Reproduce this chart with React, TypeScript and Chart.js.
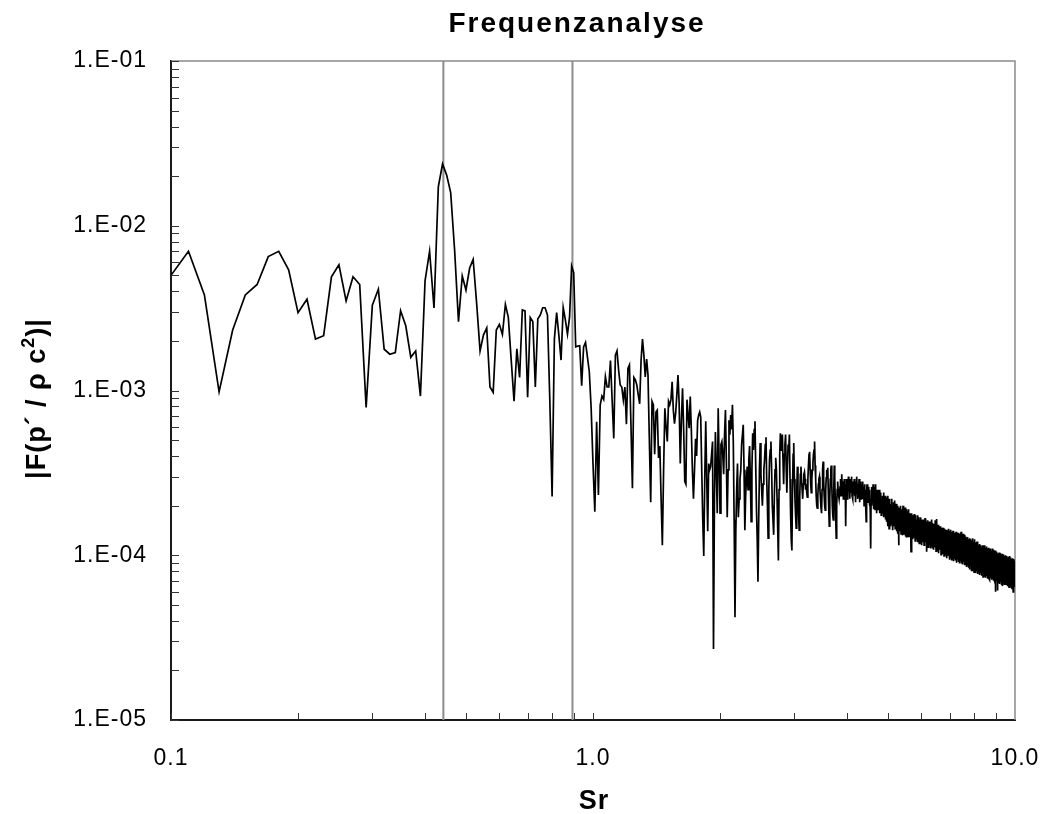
import React, { useEffect, useRef } from 'react';
import { Chart, registerables } from 'chart.js';

Chart.register(...registerables);

const FONT = '"Liberation Sans", Arial, Helvetica, sans-serif';

// Frequency bins: Sr = (SR_FIRST_BIN + i) * SR_STEP
const SR_FIRST_BIN = 10;
const SR_STEP = 0.01;

// |F(p'/rho c^2)| for Sr 0.10 .. 1.01
const ampLow = [
  5.0e-3, 7.0e-3, 3.8e-3, 9.8e-4, 2.33e-3, 3.8e-3, 4.4e-3, 6.5e-3, 7.0e-3, 5.4e-3,
  2.97e-3, 3.58e-3, 2.05e-3, 2.15e-3, 4.9e-3, 5.8e-3, 3.5e-3, 4.9e-3, 4.4e-3, 7.9e-4,
  3.29e-3, 4.12e-3, 1.78e-3, 1.66e-3, 1.7e-3, 3.05e-3, 2.47e-3, 1.59e-3, 1.74e-3, 9.25e-4,
  4.64e-3, 7.0e-3, 3.17e-3, 1.72e-2, 2.37e-2, 2.03e-2, 1.59e-2, 7.1e-3, 2.62e-3, 4.96e-3,
  4.07e-3, 5.52e-3, 6.25e-3, 3.38e-3, 1.74e-3, 2.17e-3, 2.4e-3, 1.05e-3, 9.75e-4, 2.33e-3,
  2.52e-3, 2.19e-3, 3.33e-3, 2.78e-3, 1.53e-3, 8.6e-4, 1.79e-3, 1.2e-3, 3.08e-3, 3.04e-3,
  9.1e-4, 2.77e-3, 2.62e-3, 1.05e-3, 2.72e-3, 2.87e-3, 3.18e-3, 3.18e-3, 2.87e-3, 8.8e-4,
  2.27e-4, 2.05e-3, 2.97e-3, 2.17e-3, 1.53e-3, 3.18e-3, 2.68e-3, 2.2e-3, 2.8e-3, 5.7e-3,
  5.2e-3, 1.84e-3, 1.86e-3, 1.87e-3, 1.07e-3, 1.84e-3, 1.96e-3, 1.6e-3, 1.3e-3, 7.8e-4,
  3.6e-4, 1.84e-4,
];

// Sr 1.02 .. 3.84
const ampMid = [
  6.47e-4, 2.32e-4, 8.16e-4, 9.25e-4, 8.83e-4, 1.21e-3, 1.05e-3, 1.05e-3,
  1.52e-3, 8.75e-4, 5.12e-4, 1.64e-3, 1.74e-3, 1.33e-3, 1.08e-3, 1.05e-3, 8.75e-4, 1.05e-3,
  6.25e-4, 1.36e-3, 1.43e-3, 6.25e-4, 2.55e-4, 1.2e-3, 1.16e-3, 1.08e-3, 9.4e-4, 8.3e-4,
  1.53e-3, 2.05e-3, 1.64e-3, 1.21e-3, 1.55e-3, 1.24e-3, 5.0e-4, 2.1e-4, 8.6e-4, 8.2e-4,
  4.1e-4, 7.4e-4, 7.6e-4, 3.9e-4, 4.6e-4, 2.2e-4, 1.15e-4, 3.3e-4, 7.8e-4, 6.0e-4,
  4.9e-4, 8.6e-4, 8.2e-4, 8.8e-4, 1.13e-3, 7.6e-4, 6.3e-4, 7.3e-4, 9.4e-4, 1.24e-3,
  8.4e-4, 3.6e-4, 6.6e-4, 1.03e-3, 5.8e-4, 2.8e-4, 2.7e-4, 8.8e-4, 7.1e-4, 5.9e-4,
  9.2e-4, 5.8e-4, 3.3e-4, 2.2e-4, 3.3e-4, 5.1e-4, 4.0e-4, 6.6e-4, 7.1e-4, 7.4e-4,
  6.9e-4, 3.3e-4, 1.64e-4, 9.9e-5, 2.9e-4, 6.5e-4, 2.9e-4, 1.4e-4, 3.6e-4, 3.3e-4,
  3.45e-4, 4.1e-4, 4.9e-4, 2.7e-5, 2.2e-4, 5.6e-4, 3.3e-4, 1.8e-4, 7.8e-4, 3.8e-4,
  1.8e-4, 4.7e-4, 4.9e-4, 4.1e-4, 3.1e-4, 5.4e-4, 7.6e-4, 3.8e-4, 1.7e-4, 3.3e-4,
  6.6e-4, 5.4e-4, 7.1e-4, 5.8e-4, 8.2e-4, 4.9e-4, 1.64e-4, 4.2e-5, 1.42e-4, 2.5e-4,
  3.6e-4, 1.7e-4, 2.2e-4, 2.9e-4, 3.3e-4, 4.7e-4, 5.4e-4, 6.2e-4, 3.3e-4, 1.42e-4,
  2.3e-4, 2.9e-4, 3.45e-4, 2.5e-4, 3.8e-4, 4.6e-4, 2.9e-4, 1.6e-4, 3.3e-4, 5.5e-4,
  4.35e-4, 5.8e-4, 6.5e-4, 3.5e-4, 1.9e-4, 1.24e-4, 6.9e-5, 1.64e-4, 3.3e-4, 4.8e-4,
  3.1e-4, 2.5e-4, 2.0e-4, 2.7e-4, 3.3e-4, 3.8e-4, 4.7e-4, 5.2e-4, 2.9e-4, 2.0e-4,
  1.27e-4, 2.5e-4, 3.8e-4, 4.35e-4, 4.9e-4, 3.3e-4, 2.0e-4, 1.64e-4, 1.33e-4, 2.3e-4,
  3.3e-4, 3.9e-4, 3.3e-4, 2.2e-4, 1.42e-4, 9.3e-5, 2.5e-4, 4.1e-4, 5.5e-4, 4.35e-4,
  5.0e-4, 5.4e-4, 3.8e-4, 2.7e-4, 4.1e-4, 4.7e-4, 5.4e-4, 3.3e-4, 2.4e-4, 3.5e-4,
  4.7e-4, 4.35e-4, 5.4e-4, 2.9e-4, 1.75e-4, 1.24e-4, 1.07e-4, 2.5e-4, 4.1e-4, 4.8e-4,
  2.9e-4, 2.2e-4, 1.75e-4, 1.46e-4, 2.5e-4, 3.45e-4, 2.3e-4, 1.75e-4, 1.42e-4, 2.3e-4,
  3.1e-4, 3.45e-4, 2.9e-4, 2.5e-4, 2.2e-4, 2.7e-4, 3.1e-4, 3.2e-4, 2.9e-4, 2.5e-4,
  2.7e-4, 2.4e-4, 2.25e-4, 2.9e-4, 3.5e-4, 4.1e-4, 4.25e-4, 3.3e-4, 2.7e-4, 2.4e-4,
  2.9e-4, 3.3e-4, 3.6e-4, 4.1e-4, 4.35e-4, 4.9e-4, 3.5e-4, 2.9e-4, 2.3e-4, 2.0e-4,
  1.93e-4, 2.3e-4, 2.7e-4, 2.9e-4, 3.0e-4, 2.5e-4, 2.2e-4, 1.93e-4, 1.8e-4, 2.5e-4,
  3.3e-4, 3.7e-4, 2.9e-4, 2.3e-4, 2.0e-4, 1.88e-4, 2.5e-4, 2.95e-4, 3.3e-4, 3.1e-4,
  3.4e-4, 2.5e-4, 1.88e-4, 1.5e-4, 2.2e-4, 2.9e-4, 3.3e-4, 3.5e-4, 2.7e-4, 2.0e-4,
  1.75e-4, 1.64e-4, 2.5e-4, 3.5e-4, 2.9e-4, 2.2e-4, 1.64e-4, 1.27e-4, 2.0e-4, 2.5e-4,
  2.8e-4, 2.5e-4, 2.3e-4, 2.2e-4, 2.2e-4,
];

// Sr 3.85 .. 10.00
const ampHigh = [
  2.6e-4, 2.9e-4, 2.3e-4, 2.7e-4, 3.1e-4, 2.4e-4, 2.8e-4, 2.2e-4, 2.6e-4, 2.9e-4,
  2.3e-4, 2.7e-4, 1.5e-4, 2.5e-4, 2.9e-4, 2.2e-4, 2.8e-4, 2.4e-4, 3.0e-4, 2.5e-4,
  2.7e-4, 2.2e-4, 2.9e-4, 2.4e-4, 2.6e-4, 3.0e-4, 2.3e-4, 2.7e-4, 2.2e-4, 2.8e-4,
  2.5e-4, 2.9e-4, 2.3e-4, 2.6e-4, 2.1e-4, 2.8e-4, 2.4e-4, 3.0e-4, 2.5e-4, 2.2e-4,
  2.7e-4, 2.3e-4, 2.9e-4, 2.1e-4, 2.6e-4, 2.4e-4, 2.8e-4, 2.2e-4, 2.7e-4, 2.5e-4,
  2.2e-4, 2.8e-4, 2.4e-4, 2.6e-4, 2.0e-4, 2.7e-4, 2.3e-4, 2.5e-4, 1.9e-4, 1.6e-4,
  2.4e-4, 2.7e-4, 2.2e-4, 2.5e-4, 2.1e-4, 2.6e-4, 2.3e-4, 2.0e-4, 2.5e-4, 1.8e-4,
  1.1e-4, 2.2e-4, 2.6e-4, 2.0e-4, 2.4e-4, 2.1e-4, 2.7e-4, 1.9e-4, 2.5e-4, 2.2e-4,
  2.6e-4, 1.9e-4, 2.7e-4, 2.2e-4, 2.4e-4, 1.8e-4, 2.5e-4, 2.1e-4, 2.3e-4, 1.9e-4,
  2.4e-4, 2.0e-4, 2.5e-4, 1.8e-4, 2.3e-4, 2.1e-4, 2.4e-4, 1.75e-4, 2.2e-4, 1.9e-4,
  2.3e-4, 1.8e-4, 2.1e-4, 2.4e-4, 1.7e-4, 2.2e-4, 1.9e-4, 2.3e-4, 1.65e-4, 2.1e-4,
  1.75e-4, 2.25e-4, 1.6e-4, 2.05e-4, 1.5e-4, 2.3e-4, 1.75e-4, 2.1e-4, 1.45e-4, 1.95e-4,
  2.2e-4, 1.6e-4, 2.05e-4, 1.5e-4, 1.9e-4, 2.2e-4, 1.55e-4, 2.0e-4, 1.42e-4, 1.85e-4,
  2.1e-4, 1.5e-4, 1.95e-4, 1.6e-4, 2.15e-4, 1.45e-4, 1.9e-4, 1.55e-4, 2.05e-4, 1.4e-4,
  1.85e-4, 1.5e-4, 2.0e-4, 1.35e-4, 1.8e-4, 1.15e-4, 1.7e-4, 1.95e-4, 1.4e-4, 1.85e-4,
  1.5e-4, 2.0e-4, 1.35e-4, 1.8e-4, 1.45e-4, 1.9e-4, 1.32e-4, 1.75e-4, 2.0e-4, 1.4e-4,
  1.85e-4, 1.35e-4, 1.75e-4, 1.45e-4, 1.95e-4, 1.3e-4, 1.8e-4, 1.4e-4, 1.9e-4, 1.28e-4,
  1.75e-4, 1.4e-4, 1.85e-4, 1.3e-4, 1.7e-4, 1.9e-4, 1.3e-4, 1.75e-4, 1.4e-4, 1.8e-4,
  1.35e-4, 1.7e-4, 1.05e-4, 1.6e-4, 1.8e-4, 1.3e-4, 1.65e-4, 1.25e-4, 1.75e-4, 1.35e-4,
  1.65e-4, 1.28e-4, 1.78e-4, 1.35e-4, 1.65e-4, 1.22e-4, 1.6e-4, 1.75e-4, 1.3e-4, 1.65e-4,
  1.25e-4, 1.6e-4, 1.75e-4, 1.2e-4, 1.55e-4, 1.7e-4, 1.25e-4, 1.6e-4, 1.18e-4, 1.65e-4,
  1.3e-4, 1.6e-4, 1.2e-4, 1.7e-4, 1.25e-4, 1.55e-4, 1.15e-4, 1.65e-4, 1.3e-4, 1.58e-4,
  1.2e-4, 1.65e-4, 1.28e-4, 1.55e-4, 1.15e-4, 1.6e-4, 1.3e-4, 1.68e-4, 1.2e-4, 1.52e-4,
  1.25e-4, 1.6e-4, 1.18e-4, 1.05e-4, 1.5e-4, 1.63e-4, 1.2e-4, 1.55e-4, 1.12e-4, 1.5e-4,
  1.6e-4, 1.2e-4, 1.52e-4, 1.15e-4, 1.6e-4, 1.25e-4, 1.5e-4, 1.1e-4, 1.55e-4, 1.22e-4,
  1.65e-4, 1.18e-4, 1.5e-4, 1.1e-4, 1.57e-4, 1.24e-4, 1.47e-4, 1.08e-4, 1.55e-4, 1.2e-4,
  1.5e-4, 1.12e-4, 1.63e-4, 1.2e-4, 1.47e-4, 1.06e-4, 1.55e-4, 1.15e-4, 1.66e-4, 1.22e-4,
  1.45e-4, 1.06e-4, 1.53e-4, 1.18e-4, 1.43e-4, 1.03e-4, 1.5e-4, 1.15e-4, 1.45e-4, 1.08e-4,
  1.5e-4, 1.12e-4, 1.4e-4, 1.01e-4, 1.47e-4, 1.15e-4, 1.43e-4, 1.03e-4, 1.45e-4, 1.1e-4,
  1.37e-4, 1.47e-4, 1.05e-4, 1.4e-4, 9.9e-5, 1.45e-4, 1.1e-4, 1.37e-4, 1.01e-4, 1.43e-4,
  1.08e-4, 1.4e-4, 1.15e-4, 9.6e-5, 1.43e-4, 1.05e-4, 1.35e-4, 1.0e-4, 1.41e-4, 1.1e-4,
  1.37e-4, 9.9e-5, 1.45e-4, 1.05e-4, 1.33e-4, 9.4e-5, 1.4e-4, 1.02e-4, 1.35e-4, 9.6e-5,
  1.43e-4, 1.05e-4, 1.3e-4, 9.3e-5, 1.39e-4, 1.0e-4, 1.33e-4, 9.6e-5, 1.41e-4, 1.02e-4,
  1.3e-4, 9.2e-5, 1.37e-4, 1.05e-4, 1.27e-4, 9.5e-5, 1.35e-4, 1.0e-4, 1.31e-4, 9.3e-5,
  1.39e-4, 1.02e-4, 1.27e-4, 9.0e-5, 1.35e-4, 9.8e-5, 1.3e-4, 9.4e-5, 1.37e-4, 1.0e-4,
  1.25e-4, 9.1e-5, 1.33e-4, 1.02e-4, 1.27e-4, 8.9e-5, 1.35e-4, 9.6e-5, 1.25e-4, 9.2e-5,
  1.39e-4, 9.8e-5, 1.25e-4, 8.9e-5, 1.33e-4, 9.5e-5, 1.23e-4, 8.8e-5, 1.35e-4, 1.0e-4,
  1.25e-4, 9.1e-5, 1.31e-4, 9.5e-5, 1.2e-4, 8.7e-5, 1.33e-4, 9.8e-5, 1.23e-4, 8.9e-5,
  1.3e-4, 9.3e-5, 1.2e-4, 8.5e-5, 1.27e-4, 9.5e-5, 1.21e-4, 8.8e-5, 1.29e-4, 9.1e-5,
  1.17e-4, 8.4e-5, 1.25e-4, 9.4e-5, 1.19e-4, 8.2e-5, 1.27e-4, 9.1e-5, 1.15e-4, 8.6e-5,
  1.25e-4, 9.3e-5, 1.17e-4, 8.0e-5, 1.23e-4, 8.9e-5, 1.15e-4, 8.3e-5, 1.27e-4, 9.1e-5,
  1.15e-4, 8.1e-5, 1.21e-4, 8.7e-5, 1.13e-4, 7.9e-5, 1.25e-4, 8.9e-5, 1.15e-4, 8.2e-5,
  1.2e-4, 8.6e-5, 1.11e-4, 7.8e-5, 1.19e-4, 8.9e-5, 1.13e-4, 8.0e-5, 1.21e-4, 8.5e-5,
  1.1e-4, 7.7e-5, 1.17e-4, 8.7e-5, 1.09e-4, 7.9e-5, 1.15e-4, 8.4e-5, 1.07e-4, 7.6e-5,
  1.17e-4, 8.5e-5, 1.09e-4, 7.8e-5, 1.15e-4, 8.2e-5, 1.05e-4, 7.5e-5, 1.13e-4, 8.4e-5,
  1.07e-4, 7.7e-5, 1.15e-4, 8.6e-5, 1.08e-4, 7.4e-5, 1.13e-4, 8.2e-5, 1.05e-4, 7.6e-5,
  1.15e-4, 8.4e-5, 1.05e-4, 7.4e-5, 1.13e-4, 8.5e-5, 1.07e-4, 7.3e-5, 1.11e-4, 8.0e-5,
  1.05e-4, 7.5e-5, 1.13e-4, 8.2e-5, 1.03e-4, 7.2e-5, 1.1e-4, 8.4e-5, 1.05e-4, 7.4e-5,
  1.11e-4, 8.0e-5, 1.02e-4, 7.2e-5, 1.09e-4, 8.2e-5, 1.03e-4, 7.1e-5, 1.1e-4, 7.8e-5,
  1.03e-4, 7.3e-5, 1.09e-4, 8.1e-5, 1.01e-4, 7.1e-5, 1.07e-4, 7.7e-5, 1.02e-4, 7.2e-5,
  1.1e-4, 7.9e-5, 1.0e-4, 7.0e-5, 1.08e-4, 8.1e-5, 1.01e-4, 7.2e-5, 1.05e-4, 7.6e-5,
  9.9e-5, 7.0e-5, 1.07e-4, 7.8e-5, 1.0e-4, 6.0e-5, 1.04e-4, 7.5e-5, 9.8e-5, 7.0e-5,
  1.05e-4, 7.7e-5, 9.7e-5, 6.9e-5, 1.03e-4, 6.1e-5, 9.9e-5, 7.4e-5, 1.02e-4, 7.1e-5,
  9.7e-5, 6.8e-5, 1.04e-4, 7.6e-5, 9.6e-5, 6.7e-5, 1.01e-4, 7.3e-5, 9.8e-5, 6.9e-5,
  1.03e-4, 7.5e-5, 9.5e-5, 6.6e-5, 1.01e-4, 7.2e-5, 9.7e-5, 6.8e-5, 1.02e-4, 7.4e-5,
  9.4e-5, 6.5e-5, 1.0e-4, 7.3e-5, 9.6e-5, 6.7e-5, 1.01e-4, 7.1e-5, 9.3e-5, 6.6e-5,
  9.9e-5, 7.2e-5, 9.5e-5, 6.7e-5, 1.0e-4, 7.1e-5, 9.4e-5, 6.6e-5, 9.8e-5, 7.2e-5,
  9.3e-5, 6.6e-5, 9.9e-5, 7.1e-5, 9.2e-5, 6.5e-5, 9.7e-5, 7.1e-5, 9.1e-5, 6.7e-5,
  9.8e-5, 7.0e-5, 9.0e-5, 6.4e-5, 9.6e-5, 7.0e-5, 9.2e-5, 6.5e-5, 9.9e-5, 6.9e-5,
  9.1e-5, 6.4e-5, 9.7e-5, 7.0e-5, 8.9e-5, 6.3e-5, 9.5e-5, 6.8e-5, 9.0e-5, 6.3e-5,
  9.6e-5, 6.9e-5, 8.8e-5, 6.4e-5, 9.4e-5, 6.0e-5, 9.1e-5, 6.6e-5, 9.5e-5, 6.7e-5,
  8.8e-5, 6.4e-5, 9.3e-5, 6.7e-5, 8.7e-5, 6.9e-5,
];

// Vertical reference lines (Sr)
const markerSr = [0.442, 0.894];

const xTickValues = [0.1, 1, 10];
const xTickLabels = ['0.1', '1.0', '10.0'];
const yTickValues = [1e-5, 1e-4, 1e-3, 1e-2, 1e-1];
const yTickLabels = ['1.E-05', '1.E-04', '1.E-03', '1.E-02', '1.E-01'];

const TITLE = 'Frequenzanalyse';
const X_TITLE = 'Sr';

const framePlugin = {
  id: 'frameAndText',
  beforeDraw(chart: any) {
    (chart.ctx as any).letterSpacing = '1px';
  },
  beforeDatasetsDraw(chart: any) {
    const { ctx, chartArea: a } = chart;
    ctx.save();
    ctx.strokeStyle = '#8a8a8a';
    ctx.lineWidth = 1.5;
    ctx.beginPath();
    ctx.moveTo(a.left, a.top);
    ctx.lineTo(a.right, a.top);
    ctx.lineTo(a.right, a.bottom);
    ctx.stroke();
    ctx.restore();
  },
  afterDraw(chart: any) {
    const { ctx, chartArea: a, scales } = chart;
    const xs = scales.x;
    const ys = scales.y;
    ctx.save();
    (ctx as any).letterSpacing = '0px';
    // inner tick marks
    ctx.strokeStyle = '#333';
    ctx.lineWidth = 1;
    ctx.beginPath();
    for (let e = -5; e <= -2; e++) {
      for (let k = 1; k <= 9; k++) {
        const py = Math.round(ys.getPixelForValue(k * Math.pow(10, e))) + 0.5;
        ctx.moveTo(a.left, py);
        ctx.lineTo(a.left + 8, py);
      }
    }
    const ptop = Math.round(ys.getPixelForValue(1e-1)) + 0.5;
    ctx.moveTo(a.left, ptop);
    ctx.lineTo(a.left + 8, ptop);
    for (let e = -1; e <= 0; e++) {
      for (let k = 1; k <= 9; k++) {
        const px = Math.round(xs.getPixelForValue(k * Math.pow(10, e))) + 0.5;
        ctx.moveTo(px, a.bottom);
        ctx.lineTo(px, a.bottom - 7);
      }
    }
    ctx.stroke();

    // title
    ctx.fillStyle = '#000';
    ctx.textBaseline = 'alphabetic';
    ctx.textAlign = 'center';
    ctx.font = `bold 28px ${FONT}`;
    (ctx as any).letterSpacing = '2px';
    ctx.fillText(TITLE, 577, 32);

    // x axis title
    ctx.font = `bold 27px ${FONT}`;
    (ctx as any).letterSpacing = '1px';
    ctx.fillText(X_TITLE, (a.left + a.right) / 2 + 1, 809);

    // y axis title (rotated, with superscript)
    const big = `bold 27px ${FONT}`;
    const small = `bold 18px ${FONT}`;
    const p1 = '|F(p\u00B4 / \u03C1 c';
    const p2 = '2';
    const p3 = ')|';
    ctx.translate(45, (a.top + a.bottom) / 2 + 8);
    ctx.rotate(-Math.PI / 2);
    ctx.textAlign = 'left';
    ctx.font = big;
    const w1 = ctx.measureText(p1).width;
    const w3 = ctx.measureText(p3).width;
    ctx.font = small;
    const w2 = ctx.measureText(p2).width;
    let x0 = -(w1 + w2 + w3) / 2;
    ctx.font = big;
    ctx.fillText(p1, x0, 0);
    x0 += w1;
    ctx.font = small;
    ctx.fillText(p2, x0, -11);
    x0 += w2;
    ctx.font = big;
    ctx.fillText(p3, x0, 0);
    ctx.restore();
  },
};

export default function App() {
  const canvasRef = useRef<HTMLCanvasElement | null>(null);

  useEffect(() => {
    document.body.style.margin = '0';
    const canvas = canvasRef.current;
    if (!canvas) return;

    const amps = [...ampLow, ...ampMid, ...ampHigh];
    const points = amps.map((a, i) => ({ x: (SR_FIRST_BIN + i) * SR_STEP, y: a }));

    const datasets: any[] = [
      {
        data: points,
        borderColor: '#000',
        borderWidth: 1.7,
        pointRadius: 0,
        tension: 0,
        fill: false,
      },
      ...markerSr.map((m) => ({
        data: [
          { x: m, y: yTickValues[0] },
          { x: m, y: yTickValues[yTickValues.length - 1] },
        ],
        borderColor: '#8c8c8c',
        borderWidth: 2,
        pointRadius: 0,
        fill: false,
      })),
    ];

    const chart = new Chart(canvas, {
      type: 'line',
      data: { datasets },
      options: {
        responsive: false,
        animation: false,
        devicePixelRatio: 1,
        layout: { padding: { left: 0, top: 61, right: 30, bottom: 0 } },
        plugins: {
          legend: { display: false },
          tooltip: { enabled: false },
          title: { display: false },
        },
        scales: {
          x: {
            type: 'logarithmic',
            position: 'bottom',
            min: 0.1,
            max: 10,
            grid: { display: false, drawTicks: false },
            border: { display: true, color: '#1a1a1a', width: 2 },
            ticks: {
              autoSkip: false,
              maxRotation: 0,
              padding: 25,
              color: '#000',
              font: { size: 23, family: FONT },
              callback: (_v: any, i: number) => xTickLabels[i],
            },
            afterBuildTicks: (s: any) => {
              s.ticks = xTickValues.map((v) => ({ value: v }));
            },
            afterFit: (s: any) => {
              s.height = 94;
              s.paddingLeft = 0;
              s.paddingRight = 0;
            },
          },
          y: {
            type: 'logarithmic',
            position: 'left',
            min: 1e-5,
            max: 1e-1,
            grid: { display: false, drawTicks: false },
            border: { display: true, color: '#1a1a1a', width: 2 },
            ticks: {
              autoSkip: false,
              padding: 24,
              color: '#000',
              font: { size: 23, family: FONT },
              callback: (_v: any, i: number) => yTickLabels[i],
            },
            afterBuildTicks: (s: any) => {
              s.ticks = yTickValues.map((v) => ({ value: v }));
            },
            afterFit: (s: any) => {
              s.width = 171;
              s.paddingTop = 0;
              s.paddingBottom = 0;
            },
          },
        },
      } as any,
      plugins: [framePlugin],
    });

    return () => chart.destroy();
  }, []);

  return (
    <div style={{ width: 1045, height: 814 }}>
      <canvas ref={canvasRef} width={1045} height={814} style={{ display: 'block' }} />
    </div>
  );
}
